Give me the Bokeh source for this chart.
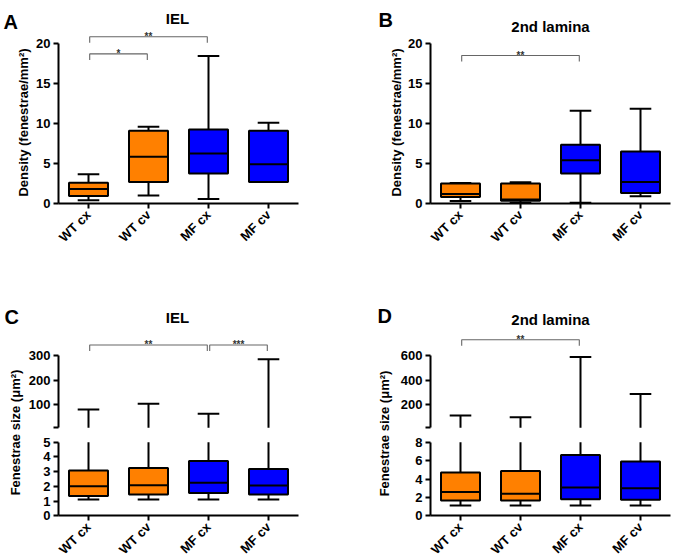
import math
import numpy as np
from bokeh.plotting import figure
from bokeh.models import Range1d, LinearAxis, FixedTicker, Label
from bokeh.layouts import row, column
from bokeh.embed import file_html
from bokeh.resources import INLINE
from bokeh.core.properties import value

# ---------------- data ----------------
groups = ["WT cx", "WT cv", "MF cx", "MF cv"]
group_colors = ["#FF8000", "#FF8000", "#0000FF", "#0000FF"]

# Panel A: IEL density (fenestrae/mm2)
a_min = [0.4, 1.0, 0.55, 2.7]
a_q1 = [0.95, 2.7, 3.75, 2.7]
a_med = [1.8, 5.85, 6.25, 4.9]
a_q3 = [2.6, 9.1, 9.25, 9.1]
a_max = [3.65, 9.6, 18.45, 10.1]
a_sig_from = ["WT cx", "WT cx"]
a_sig_to = ["WT cv", "MF cx"]
a_sig_text = ["*", "**"]
a_sig_y = [18.7, 20.85]

# Panel B: 2nd lamina density
b_min = [0.3, 0.1, 0.1, 0.9]
b_q1 = [0.8, 0.35, 3.75, 1.3]
b_med = [1.2, 0.5, 5.4, 2.7]
b_q3 = [2.5, 2.5, 7.35, 6.5]
b_max = [2.55, 2.65, 11.6, 11.85]
b_sig_from = ["WT cx"]
b_sig_to = ["MF cx"]
b_sig_text = ["**"]
b_sig_y = [18.5]

density_ticks = [0, 5, 10, 15, 20]

# Panel C: IEL fenestrae size (um2), axis broken at 5
c_min = [1.1, 1.1, 1.1, 1.1]
c_q1 = [1.35, 1.45, 1.55, 1.45]
c_med = [2.0, 2.08, 2.25, 2.05]
c_q3 = [3.08, 3.25, 3.72, 3.18]
c_max = [80, 103, 62, 285]
c_sig_from = ["WT cx", "MF cx"]
c_sig_to = ["MF cx", "MF cv"]
c_sig_text = ["**", "***"]
c_sig_y = [344, 344]
c_lower_ticks = [0, 1, 2, 3, 4, 5]
c_upper_ticks = [5, 100, 200, 300]

# Panel D: 2nd lamina fenestrae size (um2), axis broken at 8
d_min = [1.12, 1.12, 1.12, 1.12]
d_q1 = [1.67, 1.67, 1.81, 1.74]
d_med = [2.6, 2.4, 3.08, 3.0]
d_q3 = [4.72, 4.86, 6.62, 5.9]
d_max = [108, 95, 590, 285]
d_sig_from = ["WT cx"]
d_sig_to = ["MF cx"]
d_sig_text = ["**"]
d_sig_y = [731]
d_lower_ticks = [0, 2, 4, 6, 8]
d_upper_ticks = [8, 200, 400, 600]

# ---------------- style ----------------
FONT = "Liberation Sans"
BOX_W = 0.65
CAP_W = 0.36
xs = np.arange(len(groups)) + 0.5
xpos = {g: float(x) for g, x in zip(groups, xs)}


def style_axis(ax):
    ax.axis_line_width = 2
    ax.axis_line_color = "black"
    ax.major_tick_line_width = 2
    ax.major_tick_line_color = "black"
    ax.major_tick_out = 5
    ax.major_tick_in = 0
    ax.minor_tick_line_color = None
    ax.major_label_text_font = FONT
    ax.major_label_text_font_style = "bold"
    ax.major_label_text_font_size = "13px"
    ax.major_label_text_color = "black"
    ax.major_label_standoff = 3


def x_range_from(p0, p1, width):
    """category axis: value 0 at pixel p0, value len(groups) at pixel p1 (from left)"""
    scale = (p1 - p0) / len(groups)
    start = -p0 / scale
    return Range1d(start, start + width / scale)


def y_range_from(v0, p0, v1, p1, height):
    """value v0 at pixel p0 and v1 at pixel p1, pixels measured from the top"""
    scale = (p0 - p1) / (v1 - v0)
    start = v0 - (height - p0) / scale
    return Range1d(start, start + height / scale), scale


def new_fig(W, H, x_range, y_range):
    p = figure(width=W, height=H, x_range=x_range, y_range=y_range,
               output_backend="svg", toolbar_location=None,
               x_axis_location=None, y_axis_location=None,
               min_border_left=0, min_border_right=0, min_border_top=0, min_border_bottom=0)
    p.grid.visible = False
    p.outline_line_color = None
    p.background_fill_color = "white"
    p.border_fill_color = "white"
    xa = LinearAxis(fixed_location=0)
    style_axis(xa)
    xa.ticker = FixedTicker(ticks=[float(x) for x in xs])
    xa.major_label_overrides = {float(x): g for x, g in zip(xs, groups)}
    xa.major_label_orientation = math.pi / 4
    xa.major_label_standoff = 4
    xa.bounds = (0, len(groups))
    p.add_layout(xa, "below")
    return p


def add_yaxis(p, ticks, range_name="default", blank_first=False):
    ya = LinearAxis(fixed_location=0, y_range_name=range_name)
    style_axis(ya)
    ya.ticker = FixedTicker(ticks=ticks)
    ya.bounds = (ticks[0], ticks[-1])
    if blank_first:
        ya.major_label_overrides = {ticks[0]: ""}
    p.add_layout(ya, "left")


def add_text(p, H, text, x, y_top, size, align="left", baseline="alphabetic", angle=0.0):
    p.add_layout(Label(x=x, y=H - y_top, x_units="screen", y_units="screen", text=text,
                       text_font=FONT, text_font_style="bold", text_font_size=size,
                       text_align=align, text_baseline=baseline, angle=angle,
                       text_color="black"))


def add_sig(p, frm, to, txt, ys, drop, range_name="default"):
    bx, by = [], []
    for f, t, y in zip(frm, to, ys):
        x0 = xpos[f] + 0.02
        x1 = xpos[t] - 0.02
        bx.append([x0, x0, x1, x1])
        by.append([y - drop, y, y, y - drop])
    p.multi_line(xs=bx, ys=by, line_color="#666666", line_width=1.1, y_range_name=range_name)
    mids = [(xpos[f] + xpos[t]) / 2 for f, t in zip(frm, to)]
    p.text(x=mids, y=ys, text=txt, text_align="center", text_baseline="alphabetic",
           text_font=value(FONT), text_font_style="bold", text_font_size="10px",
           text_color="#333333", y_offset=0, y_range_name=range_name)


def draw_boxes(p, mn, q1, md, q3, mx, brk=None):
    lw = 2
    p.segment(x0=xs, y0=mn, x1=xs, y1=q1, line_color="black", line_width=lw)
    p.segment(x0=xs - CAP_W / 2, y0=mn, x1=xs + CAP_W / 2, y1=mn, line_color="black", line_width=lw)
    if brk is None:
        p.segment(x0=xs, y0=q3, x1=xs, y1=mx, line_color="black", line_width=lw)
        p.segment(x0=xs - CAP_W / 2, y0=mx, x1=xs + CAP_W / 2, y1=mx, line_color="black", line_width=lw)
    else:
        p.segment(x0=xs, y0=q3, x1=xs, y1=[brk] * len(q3), line_color="black", line_width=lw)
        p.segment(x0=xs, y0=[brk] * len(mx), x1=xs, y1=mx, line_color="black", line_width=lw,
                  y_range_name="upper")
        p.segment(x0=xs - CAP_W / 2, y0=mx, x1=xs + CAP_W / 2, y1=mx, line_color="black",
                  line_width=lw, y_range_name="upper")
    p.vbar(x=xs, bottom=q1, top=q3, width=BOX_W, fill_color=group_colors,
           line_color="black", line_width=lw)
    p.segment(x0=xs - BOX_W / 2, y0=md, x1=xs + BOX_W / 2, y1=md, line_color="black", line_width=lw)


# ---------------- panels ----------------
def density_panel(W, H, ax_px, letter, letter_xy, title, title_xy, label_xy,
                  mn, q1, md, q3, mx, sf, st, stx, sy):
    yr, scale = y_range_from(0, 203, 20, 43, H)
    p = new_fig(W, H, x_range_from(ax_px, ax_px + 240, W), yr)
    add_yaxis(p, density_ticks)
    draw_boxes(p, mn, q1, md, q3, mx)
    add_sig(p, sf, st, stx, sy, 6 / scale)
    add_text(p, H, letter, letter_xy[0], letter_xy[1], "20px")
    add_text(p, H, title, title_xy[0], title_xy[1], "15px", align="center")
    add_text(p, H, "Density (fenestrae/mm²)", label_xy[0], label_xy[1], "13px",
             align="center", baseline="middle", angle=math.pi / 2)
    return p


def size_panel(W, H, ax_px, letter, letter_xy, title, title_xy, label_xy,
               mn, q1, md, q3, mx, lower_ticks, upper_ticks, sf, st, stx, sy):
    brk = lower_ticks[-1]
    yr, _ = y_range_from(0, 235.3, brk, 161.7, H)
    ur, up_scale = y_range_from(upper_ticks[0], 147.3, upper_ticks[-1], 75.2, H)
    p = new_fig(W, H, x_range_from(ax_px, ax_px + 240, W), yr)
    p.extra_y_ranges = {"upper": ur}
    add_yaxis(p, lower_ticks)
    add_yaxis(p, upper_ticks, range_name="upper", blank_first=True)
    draw_boxes(p, mn, q1, md, q3, mx, brk=brk)
    add_sig(p, sf, st, stx, sy, 6 / up_scale, range_name="upper")
    add_text(p, H, letter, letter_xy[0], letter_xy[1], "20px")
    add_text(p, H, title, title_xy[0], title_xy[1], "15px", align="center")
    add_text(p, H, "Fenestrae size (μm²)", label_xy[0], label_xy[1], "13px",
             align="center", baseline="middle", angle=math.pi / 2)
    return p


TOP_H, BOT_H = 280, 278
LEFT_W, RIGHT_W = 335, 340

pA = density_panel(LEFT_W, TOP_H, 58, "A", (3, 21), "IEL", (177, 18), (23, 122),
                   a_min, a_q1, a_med, a_q3, a_max, a_sig_from, a_sig_to, a_sig_text, a_sig_y)
pB = density_panel(RIGHT_W, TOP_H, 95, "B", (43, 19), "2nd lamina", (215, 26), (61, 122),
                   b_min, b_q1, b_med, b_q3, b_max, b_sig_from, b_sig_to, b_sig_text, b_sig_y)
pC = size_panel(LEFT_W, BOT_H, 58, "C", (4, 36), "IEL", (177, 37), (15, 152),
                c_min, c_q1, c_med, c_q3, c_max, c_lower_ticks, c_upper_ticks,
                c_sig_from, c_sig_to, c_sig_text, c_sig_y)
pD = size_panel(RIGHT_W, BOT_H, 95, "D", (42, 35), "2nd lamina", (215, 39), (49, 153),
                d_min, d_q1, d_med, d_q3, d_max, d_lower_ticks, d_upper_ticks,
                d_sig_from, d_sig_to, d_sig_text, d_sig_y)

layout = column(row(pA, pB), row(pC, pD))
open("out.html", "w").write(file_html(layout, INLINE))
